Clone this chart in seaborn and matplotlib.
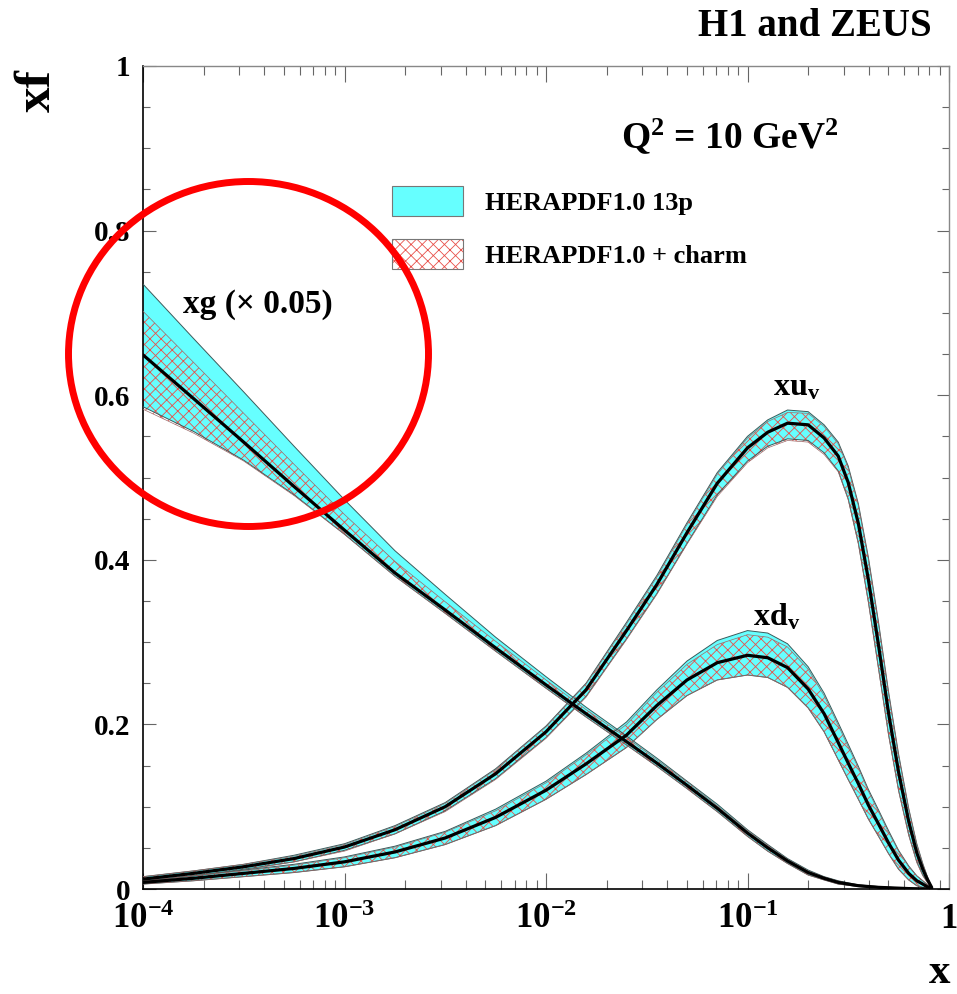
import numpy as np
import pandas as pd
import matplotlib
matplotlib.use("Agg")
import matplotlib.pyplot as plt
import seaborn as sns
from matplotlib.patches import Ellipse, Patch
from matplotlib.legend_handler import HandlerTuple
from matplotlib.ticker import MultipleLocator, LogLocator, NullFormatter

# ---------------- data: HERAPDF1.0 at Q^2 = 10 GeV^2 ----------------
x = [1e-4, 1.78e-4, 3.16e-4, 5.62e-4, 1e-3, 1.78e-3, 3.16e-3, 5.62e-3, 0.01,
     0.0158, 0.0251, 0.0355, 0.0501, 0.0708, 0.1, 0.126, 0.158, 0.2, 0.24,
     0.282, 0.316, 0.355, 0.398, 0.447, 0.501, 0.562, 0.631, 0.692, 0.741,
     0.776, 0.82]

# gluon (scaled by 0.05)
xg = [0.649, 0.596, 0.543, 0.489, 0.436, 0.384, 0.339, 0.293, 0.248, 0.213,
      0.179, 0.153, 0.126, 0.098, 0.068, 0.050, 0.034, 0.020, 0.013, 0.008,
      0.006, 0.004, 0.003, 0.002, 0.0015, 0.001, 0.0005, 0.0003, 0.0002,
      0.0001, 0.0]
xg_up_13p = [0.086, 0.073, 0.061, 0.049, 0.037, 0.027, 0.019, 0.013, 0.010, 0.008,
             0.007, 0.006, 0.005, 0.005, 0.004, 0.004, 0.003, 0.003, 0.002, 0.002,
             0.0015, 0.001, 0.001, 0.001, 0.0008, 0.0005, 0.0003, 0.0002, 0.0001,
             0.0001, 0.0]
xg_dn_13p = [0.063, 0.040, 0.022, 0.010, 0.005, 0.004, 0.004, 0.004, 0.004, 0.004,
             0.004, 0.004, 0.004, 0.004, 0.004, 0.004, 0.003, 0.003, 0.002, 0.002,
             0.0015, 0.001, 0.001, 0.001, 0.0008, 0.0005, 0.0003, 0.0002, 0.0001,
             0.0001, 0.0]
xg_up_charm = [0.053, 0.044, 0.035, 0.027, 0.019, 0.014, 0.010, 0.008, 0.006, 0.005,
               0.005, 0.004, 0.004, 0.003, 0.003, 0.003, 0.002, 0.002, 0.0015, 0.0015,
               0.001, 0.001, 0.001, 0.001, 0.0008, 0.0005, 0.0003, 0.0002, 0.0001,
               0.0001, 0.0]
xg_dn_charm = [0.066, 0.042, 0.023, 0.011, 0.005, 0.004, 0.004, 0.004, 0.004, 0.004,
               0.004, 0.004, 0.004, 0.004, 0.004, 0.004, 0.003, 0.003, 0.002, 0.002,
               0.0015, 0.001, 0.001, 0.001, 0.0008, 0.0005, 0.0003, 0.0002, 0.0001,
               0.0001, 0.0]

# u valence
xuv = [0.012, 0.019, 0.027, 0.037, 0.051, 0.072, 0.100, 0.140, 0.191, 0.242,
       0.314, 0.370, 0.433, 0.493, 0.536, 0.555, 0.566, 0.564, 0.548, 0.526,
       0.494, 0.444, 0.376, 0.296, 0.214, 0.142, 0.082, 0.044, 0.024, 0.013,
       0.002]
xuv_up_13p = [0.003, 0.003, 0.003, 0.004, 0.004, 0.005, 0.005, 0.006, 0.007, 0.008,
              0.010, 0.011, 0.012, 0.013, 0.014, 0.015, 0.016, 0.016, 0.016, 0.017,
              0.020, 0.024, 0.027, 0.028, 0.026, 0.022, 0.016, 0.011, 0.007, 0.004,
              0.0]
xuv_dn_13p = [0.003, 0.003, 0.003, 0.004, 0.004, 0.005, 0.005, 0.006, 0.007, 0.008,
              0.010, 0.011, 0.013, 0.014, 0.016, 0.017, 0.019, 0.019, 0.018, 0.018,
              0.020, 0.024, 0.027, 0.028, 0.026, 0.022, 0.016, 0.011, 0.007, 0.004,
              0.0]
xuv_up_charm = [0.003, 0.003, 0.003, 0.003, 0.003, 0.004, 0.004, 0.005, 0.006, 0.007,
                0.008, 0.009, 0.010, 0.011, 0.012, 0.013, 0.013, 0.014, 0.014, 0.015,
                0.018, 0.022, 0.025, 0.026, 0.024, 0.020, 0.015, 0.010, 0.006, 0.004,
                0.0]
xuv_dn_charm = [0.003, 0.003, 0.004, 0.004, 0.005, 0.005, 0.006, 0.007, 0.008, 0.009,
                0.011, 0.012, 0.014, 0.016, 0.018, 0.019, 0.021, 0.021, 0.020, 0.019,
                0.021, 0.025, 0.028, 0.029, 0.027, 0.023, 0.017, 0.012, 0.008, 0.004,
                0.0]

# d valence
xdv = [0.008, 0.013, 0.019, 0.025, 0.033, 0.045, 0.062, 0.087, 0.120, 0.152,
       0.187, 0.223, 0.254, 0.275, 0.284, 0.281, 0.269, 0.243, 0.213, 0.178,
       0.153, 0.128, 0.102, 0.079, 0.056, 0.035, 0.019, 0.010, 0.006, 0.003,
       0.001]
xdv_up_13p = [0.002, 0.003, 0.004, 0.005, 0.006, 0.007, 0.008, 0.010, 0.011, 0.013,
              0.016, 0.019, 0.023, 0.027, 0.030, 0.030, 0.029, 0.027, 0.025, 0.024,
              0.023, 0.021, 0.019, 0.017, 0.015, 0.012, 0.009, 0.006, 0.004, 0.003,
              0.0]
xdv_dn_13p = [0.002, 0.003, 0.004, 0.005, 0.006, 0.007, 0.008, 0.010, 0.011, 0.013,
              0.015, 0.017, 0.019, 0.021, 0.024, 0.024, 0.024, 0.023, 0.022, 0.021,
              0.020, 0.019, 0.017, 0.015, 0.013, 0.011, 0.008, 0.006, 0.004, 0.003,
              0.0]
xdv_up_charm = [0.002, 0.003, 0.003, 0.004, 0.005, 0.006, 0.007, 0.008, 0.009, 0.011,
                0.013, 0.016, 0.019, 0.022, 0.025, 0.025, 0.025, 0.024, 0.022, 0.021,
                0.020, 0.019, 0.017, 0.015, 0.013, 0.011, 0.008, 0.006, 0.004, 0.003,
                0.0]
xdv_dn_charm = xdv_dn_13p

curves = {
    "xg": (xg, xg_up_13p, xg_dn_13p, xg_up_charm, xg_dn_charm),
    "xuv": (xuv, xuv_up_13p, xuv_dn_13p, xuv_up_charm, xuv_dn_charm),
    "xdv": (xdv, xdv_up_13p, xdv_dn_13p, xdv_up_charm, xdv_dn_charm),
}

xticks = [1e-4, 1e-3, 1e-2, 1e-1, 1]
xticklabels = ["10$^{-4}$", "10$^{-3}$", "10$^{-2}$", "10$^{-1}$", "1"]
yticks = [0, 0.2, 0.4, 0.6, 0.8, 1.0]
yticklabels = ["0", "0.2", "0.4", "0.6", "0.8", "1"]

# ---------------- style ----------------
sns.set_style("ticks")
plt.rcParams["font.family"] = ["Liberation Serif", "DejaVu Serif"]
plt.rcParams["font.weight"] = "bold"
plt.rcParams["text.color"] = "black"
plt.rcParams["axes.labelcolor"] = "black"
plt.rcParams["xtick.labelcolor"] = "black"
plt.rcParams["ytick.labelcolor"] = "black"
plt.rcParams["mathtext.fontset"] = "custom"
plt.rcParams["mathtext.rm"] = "Liberation Serif:bold"
plt.rcParams["mathtext.bf"] = "Liberation Serif:bold"
plt.rcParams["mathtext.it"] = "Liberation Serif:bold"
plt.rcParams["hatch.linewidth"] = 0.6

CYAN = "#66ffff"
HATCH_RED = "#e8504a"
EDGE = "#3c5a5a"
HATCH = "xxx"

W, H = 957, 994
fig = plt.figure(figsize=(W / 100, H / 100), dpi=100)
ax = fig.add_axes([143 / W, 1 - 889 / H, (949 - 143) / W, (889 - 66) / H])
ax.set_facecolor("white")

xa = np.array(x)
for name, (c, u13, d13, uch, dch) in curves.items():
    c = np.array(c)
    lo13, hi13 = c - np.array(d13), c + np.array(u13)
    loch, hich = c - np.array(dch), c + np.array(uch)
    ax.fill_between(xa, lo13, hi13, facecolor=CYAN, edgecolor="none", lw=0, zorder=1)
    ax.fill_between(xa, loch, hich, facecolor="none", edgecolor=HATCH_RED,
                    hatch=HATCH, lw=0, zorder=2)
    for edge in (lo13, hi13):
        ax.plot(xa, edge, color=EDGE, lw=0.7, zorder=3)
    for edge in (loch, hich):
        ax.plot(xa, edge, color="#9a6a6a", lw=0.5, zorder=3)

central = pd.concat([
    pd.DataFrame({"x": xa, "xf": np.array(v[0]), "pdf": k}) for k, v in curves.items()
])
sns.lineplot(data=central, x="x", y="xf", hue="pdf",
             palette={k: "black" for k in curves}, linewidth=2.3,
             legend=False, errorbar=None, ax=ax, zorder=4)

ax.set_xscale("log")
ax.set_xlim(1e-4, 1)
ax.set_ylim(0, 1)
ax.set_xlabel("")
ax.set_ylabel("")

ax.set_xticks(xticks, labels=xticklabels)
ax.xaxis.set_minor_locator(LogLocator(base=10, subs=np.arange(2, 10)))
ax.xaxis.set_minor_formatter(NullFormatter())
ax.set_yticks(yticks, labels=yticklabels)
ax.yaxis.set_minor_locator(MultipleLocator(0.05))

ax.tick_params(axis="both", which="both", direction="in", top=True, right=True,
               color="#666666", width=0.8)
ax.tick_params(axis="x", which="major", length=11.5, pad=10, labelsize=25)
ax.tick_params(axis="x", which="minor", length=6.2)
ax.tick_params(axis="y", which="major", length=9.0, pad=9, labelsize=21)
ax.tick_params(axis="y", which="minor", length=5.0)

for side in ("left", "bottom"):
    ax.spines[side].set_color("black")
    ax.spines[side].set_linewidth(1.2)
for side in ("top", "right"):
    ax.spines[side].set_color("#888888")
    ax.spines[side].set_linewidth(1.0)

# ---------------- annotations ----------------
def px(xp, yp):
    return xp / W, 1 - yp / H

fig.text(*px(932, 36), "H1 and ZEUS", ha="right", va="baseline", fontsize=28)
fig.text(*px(621, 148), "Q$^2$ = 10 GeV$^2$", ha="left", va="baseline", fontsize=27)
fig.text(*px(183, 313), "xg (\u00d7 0.05)", ha="left", va="baseline", fontsize=24)
fig.text(*px(773, 395), "xu$_{\\rm v}$", ha="left", va="baseline", fontsize=23)
fig.text(*px(753, 625), "xd$_{\\rm v}$", ha="left", va="baseline", fontsize=23)
fig.text(*px(38, 91), "xf", ha="center", va="center", rotation=90, fontsize=37)
fig.text(*px(950, 983), "x", ha="right", va="baseline", fontsize=31)

# legend
h13 = Patch(facecolor=CYAN, edgecolor="#777777", lw=0.8)
hch = (Patch(facecolor="white", edgecolor=HATCH_RED, hatch=HATCH, lw=0),
       Patch(facecolor="none", edgecolor="#777777", lw=0.8))
fs_leg = 19
em = fs_leg * 100 / 72
fig.legend([h13, hch], ["HERAPDF1.0 13p", "HERAPDF1.0 + charm"],
           handler_map={tuple: HandlerTuple(ndivide=1, pad=0)},
           loc="upper left", bbox_to_anchor=px(391.7, 186), bbox_transform=fig.transFigure,
           frameon=False, fontsize=fs_leg, borderpad=0, borderaxespad=0,
           handlelength=71 / em, handleheight=36 / em, handletextpad=22 / em,
           labelspacing=23 / em)

# highlight ring around the small-x gluon
ring = Ellipse((248.5 / 100, (H - 354) / 100), 3.60, 3.45, transform=fig.dpi_scale_trans,
               facecolor="none", edgecolor="#ff0000", lw=5.0, zorder=10)
fig.add_artist(ring)

fig.savefig("out.png", dpi=100)
